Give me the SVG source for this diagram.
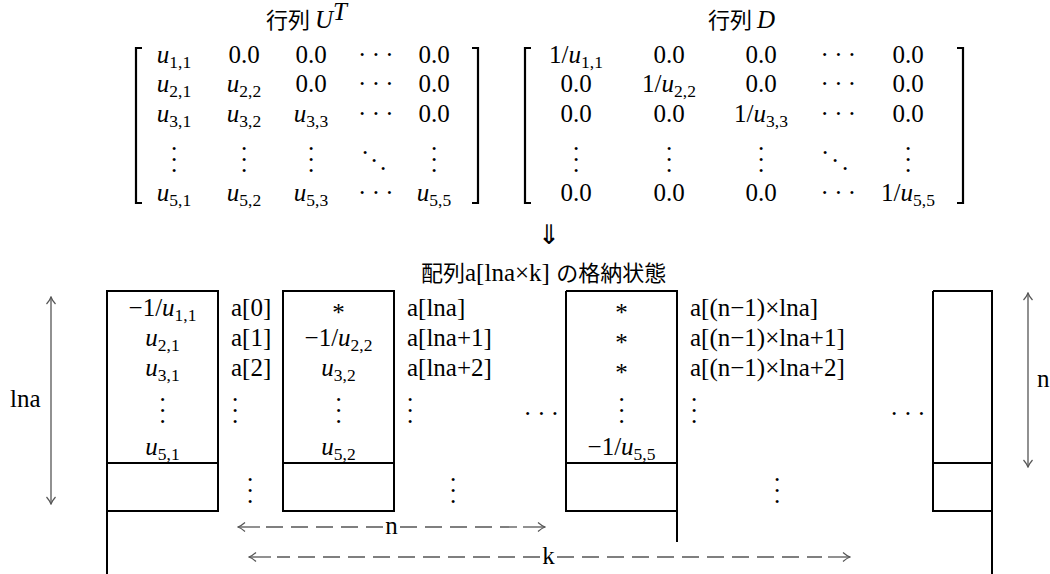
<svg xmlns="http://www.w3.org/2000/svg" width="1050" height="574" viewBox="0 0 1050 574">
<style>
text{fill:#000}
.m{font-family:"Liberation Serif",serif;font-size:25px;text-anchor:middle}
.b{font-family:"Liberation Serif",serif;font-size:25px}
.c{text-anchor:middle}
.st{text-anchor:start}
.j{font-family:"Noto Sans CJK JP",sans-serif;font-size:22px}
.i{font-style:italic}
.s{font-size:17.5px}
.d{font-family:"DejaVu Sans",sans-serif}
.cd{font-family:"Liberation Serif",serif;font-size:25px;letter-spacing:5.3px;text-anchor:start}
.box{fill:none;stroke:#000;stroke-width:2}
.br{fill:none;stroke:#000;stroke-width:2.2}
.ar{fill:none;stroke:#555;stroke-width:1.3}
.ds{stroke-dasharray:17 8}
</style>
<defs>
<marker id="ah" viewBox="-9 -6 10 12" refX="0" refY="0" markerWidth="10" markerHeight="12" markerUnits="userSpaceOnUse" orient="auto-start-reverse">
<path d="M-7,-4.5 Q-3,-1 0,0 Q-3,1 -7,4.5" fill="none" stroke="#555" stroke-width="1.2"/>
</marker>
</defs>

<g id="title-ut">
<text x="266" y="28"><tspan class="j">行列 </tspan><tspan class="b i">U</tspan><tspan class="b i" font-size="17" dy="-8">T</tspan></text>
</g>
<g id="title-d">
<text x="708" y="28"><tspan class="j">行列 </tspan><tspan class="b i">D</tspan></text>
</g>

<g id="matrix-ut">
<path class="br" d="M142,48 H136 V203 H142 M472,48 H478 V203 H472"/>
<text class="m" x="174" y="63"><tspan class="i">u</tspan><tspan class="s" dy="5">1,1</tspan></text>
<text class="m" x="244" y="63">0.0</text>
<text class="m" x="311" y="63">0.0</text>
<text class="cd" x="358" y="63">···</text>
<text class="m" x="434" y="63">0.0</text>
<text class="m" x="174" y="92"><tspan class="i">u</tspan><tspan class="s" dy="5">2,1</tspan></text>
<text class="m" x="244" y="92"><tspan class="i">u</tspan><tspan class="s" dy="5">2,2</tspan></text>
<text class="m" x="311" y="92">0.0</text>
<text class="cd" x="358" y="92">···</text>
<text class="m" x="434" y="92">0.0</text>
<text class="m" x="174" y="122"><tspan class="i">u</tspan><tspan class="s" dy="5">3,1</tspan></text>
<text class="m" x="244" y="122"><tspan class="i">u</tspan><tspan class="s" dy="5">3,2</tspan></text>
<text class="m" x="311" y="122"><tspan class="i">u</tspan><tspan class="s" dy="5">3,3</tspan></text>
<text class="cd" x="358" y="122">···</text>
<text class="m" x="434" y="122">0.0</text>
<text class="m" x="174" y="150">.<tspan x="174" dy="11">.</tspan><tspan x="174" dy="11">.</tspan></text>
<text class="m" x="244" y="150">.<tspan x="244" dy="11">.</tspan><tspan x="244" dy="11">.</tspan></text>
<text class="m" x="311" y="150">.<tspan x="311" dy="11">.</tspan><tspan x="311" dy="11">.</tspan></text>
<text class="m" x="365" y="154">.<tspan x="374" dy="8">.</tspan><tspan x="383" dy="8">.</tspan></text>
<text class="m" x="434" y="150">.<tspan x="434" dy="11">.</tspan><tspan x="434" dy="11">.</tspan></text>
<text class="m" x="174" y="201"><tspan class="i">u</tspan><tspan class="s" dy="5">5,1</tspan></text>
<text class="m" x="244" y="201"><tspan class="i">u</tspan><tspan class="s" dy="5">5,2</tspan></text>
<text class="m" x="311" y="201"><tspan class="i">u</tspan><tspan class="s" dy="5">5,3</tspan></text>
<text class="cd" x="358" y="201">···</text>
<text class="m" x="434" y="201"><tspan class="i">u</tspan><tspan class="s" dy="5">5,5</tspan></text>
</g>

<g id="matrix-d">
<path class="br" d="M531,48 H525 V203 H531 M957,48 H963 V203 H957"/>
<text class="m" x="576" y="63">1/<tspan class="i">u</tspan><tspan class="s" dy="5">1,1</tspan></text>
<text class="m" x="669" y="63">0.0</text>
<text class="m" x="761" y="63">0.0</text>
<text class="cd" x="820.5" y="63">···</text>
<text class="m" x="908" y="63">0.0</text>
<text class="m" x="576" y="92">0.0</text>
<text class="m" x="669" y="92">1/<tspan class="i">u</tspan><tspan class="s" dy="5">2,2</tspan></text>
<text class="m" x="761" y="92">0.0</text>
<text class="cd" x="820.5" y="92">···</text>
<text class="m" x="908" y="92">0.0</text>
<text class="m" x="576" y="122">0.0</text>
<text class="m" x="669" y="122">0.0</text>
<text class="m" x="761" y="122">1/<tspan class="i">u</tspan><tspan class="s" dy="5">3,3</tspan></text>
<text class="cd" x="820.5" y="122">···</text>
<text class="m" x="908" y="122">0.0</text>
<text class="m" x="576" y="150">.<tspan x="576" dy="11">.</tspan><tspan x="576" dy="11">.</tspan></text>
<text class="m" x="669" y="150">.<tspan x="669" dy="11">.</tspan><tspan x="669" dy="11">.</tspan></text>
<text class="m" x="761" y="150">.<tspan x="761" dy="11">.</tspan><tspan x="761" dy="11">.</tspan></text>
<text class="m" x="825" y="154">.<tspan x="835" dy="8">.</tspan><tspan x="845" dy="8">.</tspan></text>
<text class="m" x="908" y="150">.<tspan x="908" dy="11">.</tspan><tspan x="908" dy="11">.</tspan></text>
<text class="m" x="576" y="201">0.0</text>
<text class="m" x="669" y="201">0.0</text>
<text class="m" x="761" y="201">0.0</text>
<text class="cd" x="820.5" y="201">···</text>
<text class="m" x="908" y="201">1/<tspan class="i">u</tspan><tspan class="s" dy="5">5,5</tspan></text>
</g>

<g id="down-arrow">
<text class="d c" x="549" y="244" font-size="27">⇓</text>
</g>

<g id="title-array">
<text x="421" y="281"><tspan class="j">配列</tspan><tspan class="b" font-size="24">a[lna×k] </tspan><tspan class="j">の格納状態</tspan></text>
</g>

<g id="box1">
<path class="box" d="M107,574 V291 H218 V511 H107 M107,463 H218"/>
<text class="b c" x="162.5" y="316">−1/<tspan class="i">u</tspan><tspan class="s" dy="5">1,1</tspan></text>
<text class="b c" x="162.5" y="346"><tspan class="i">u</tspan><tspan class="s" dy="5">2,1</tspan></text>
<text class="b c" x="162.5" y="376"><tspan class="i">u</tspan><tspan class="s" dy="5">3,1</tspan></text>
<text class="b c" x="162.5" y="401">.<tspan x="162.5" dy="11">.</tspan><tspan x="162.5" dy="11">.</tspan></text>
<text class="b c" x="162.5" y="455"><tspan class="i">u</tspan><tspan class="s" dy="5">5,1</tspan></text>
<text class="b" x="231" y="316">a[0]</text>
<text class="b" x="231" y="346">a[1]</text>
<text class="b" x="231" y="376">a[2]</text>
<text class="b c" x="235" y="401">.<tspan x="235" dy="11">.</tspan><tspan x="235" dy="11">.</tspan></text>
</g>

<g id="box2">
<path class="box" d="M283,291 H394 V511 H283 Z M283,463 H394"/>
<text class="b c" x="338.5" y="321">*</text>
<text class="b c" x="338.5" y="346">−1/<tspan class="i">u</tspan><tspan class="s" dy="5">2,2</tspan></text>
<text class="b c" x="338.5" y="376"><tspan class="i">u</tspan><tspan class="s" dy="5">3,2</tspan></text>
<text class="b c" x="338.5" y="401">.<tspan x="338.5" dy="11">.</tspan><tspan x="338.5" dy="11">.</tspan></text>
<text class="b c" x="338.5" y="455"><tspan class="i">u</tspan><tspan class="s" dy="5">5,2</tspan></text>
<text class="b" x="407" y="316">a[lna]</text>
<text class="b" x="407" y="346">a[lna+1]</text>
<text class="b" x="407" y="376">a[lna+2]</text>
<text class="b c" x="410" y="401">.<tspan x="410" dy="11">.</tspan><tspan x="410" dy="11">.</tspan></text>
</g>

<g id="box3">
<path class="box" d="M566,291 H677 V542 M566,291 V511 H677 M566,463 H677"/>
<text class="b c" x="621.5" y="321">*</text>
<text class="b c" x="621.5" y="351">*</text>
<text class="b c" x="621.5" y="381">*</text>
<text class="b c" x="621.5" y="401">.<tspan x="621.5" dy="11">.</tspan><tspan x="621.5" dy="11">.</tspan></text>
<text class="b c" x="621.5" y="455">−1/<tspan class="i">u</tspan><tspan class="s" dy="5">5,5</tspan></text>
<text class="b" x="690" y="316">a[(n−1)×lna]</text>
<text class="b" x="690" y="346">a[(n−1)×lna+1]</text>
<text class="b" x="690" y="376">a[(n−1)×lna+2]</text>
<text class="b c" x="694" y="401">.<tspan x="694" dy="11">.</tspan><tspan x="694" dy="11">.</tspan></text>
</g>

<g id="box4">
<path class="box" d="M933,291 H992 V574 M933,291 V511 H992 M933,463 H992"/>
</g>

<g id="ellipses">
<text class="cd" x="523.5" y="422">···</text>
<text class="cd" x="890" y="422">···</text>
<text class="b c" x="250" y="481">.<tspan x="250" dy="11">.</tspan><tspan x="250" dy="11">.</tspan></text>
<text class="b c" x="453" y="481">.<tspan x="453" dy="11">.</tspan><tspan x="453" dy="11">.</tspan></text>
<text class="b c" x="777" y="481">.<tspan x="777" dy="11">.</tspan><tspan x="777" dy="11">.</tspan></text>
</g>

<g id="connectors">
<line class="ar" x1="51" y1="400" x2="51" y2="297" marker-end="url(#ah)"/>
<line class="ar" x1="51" y1="400" x2="51" y2="504" marker-end="url(#ah)"/>
<line class="ar" x1="1028" y1="380" x2="1028" y2="293" marker-end="url(#ah)"/>
<line class="ar" x1="1028" y1="380" x2="1028" y2="467" marker-end="url(#ah)"/>
<path class="ar ds" d="M383,527 H262"/>
<path class="ar" d="M260,527 H238" marker-end="url(#ah)"/>
<path class="ar ds" d="M400,527 H521"/>
<path class="ar" d="M523,527 H545" marker-end="url(#ah)"/>
<path class="ar ds" d="M540,557 H277"/>
<path class="ar" d="M271,557 H249" marker-end="url(#ah)"/>
<path class="ar ds" d="M557,557 H822"/>
<path class="ar" d="M828,557 H850" marker-end="url(#ah)"/>
</g>

<g id="labels">
<text class="b" x="10" y="407">lna</text>
<text class="b" x="1037" y="387">n</text>
<text class="b c" x="391.5" y="534">n</text>
<text class="b c" x="548.5" y="564">k</text>
</g>
</svg>
